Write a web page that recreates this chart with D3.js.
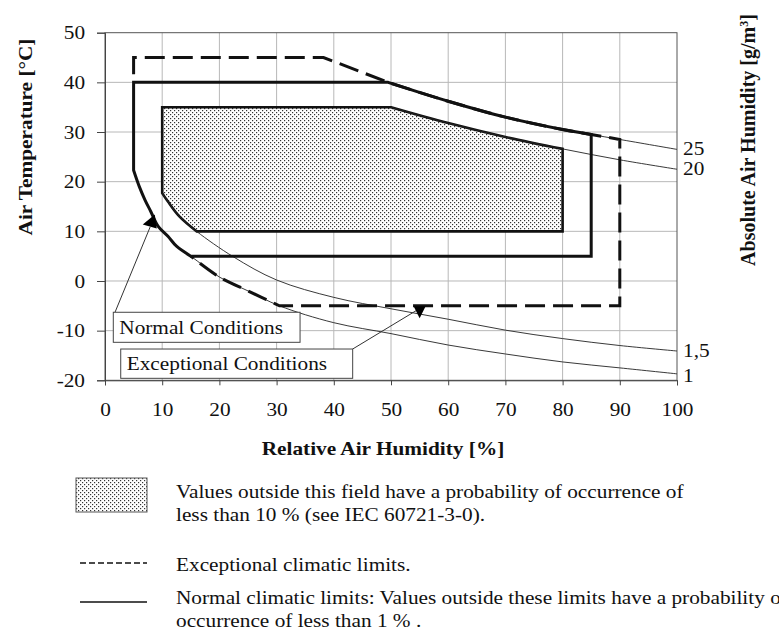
<!DOCTYPE html>
<html lang="en">
<head>
<meta charset="UTF-8">
<title>Climatic limits</title>
<script src="https://d3js.org/d3.v7.min.js"></script>
<style>
  body { margin: 0; background: #fff; }
  text { font-family: "Liberation Serif", "Times New Roman", serif; fill: #111; }
</style>
</head>
<body>
<svg id="chart" width="779" height="632"></svg>
<script>
// values: [relative humidity %, temperature °C]
const rhTicks = [0, 10, 20, 30, 40, 50, 60, 70, 80, 90, 100];
const tempTicks = [-20, -10, 0, 10, 20, 30, 40, 50];

// lines of constant absolute humidity
const abs1 = [[5, 22.3], [6, 19], [7, 16.3], [8, 14], [9.3, 11], [11, 9], [12.5, 7], [15, 5],
  [20, 0.8], [25, -2], [30.5, -5], [40, -8.4], [50, -10.6], [60, -12.9], [70, -14.7],
  [80, -16.3], [90, -17.5], [100, -18.7]];
const abs15 = [[10, 17.7], [11, 16], [13, 13], [16, 10], [22.4, 4.9], [30, 0.2], [40, -3.3],
  [50, -5.6], [60, -7.7], [70, -9.9], [80, -11.6], [90, -13], [100, -14.1]];
const abs20 = [[50, 35], [60, 31.8], [70, 29], [80, 26.6], [90, 24.4], [100, 22.5]];
const abs25 = [[49.5, 40], [60, 36.2], [70, 33], [80, 30.5], [85, 29.5], [90, 28.5], [100, 26.5]];
const absCurves = [abs1, abs15, abs20, abs25];
const absLabels = ["1", "1,5", "20", "25"];

// straight parts of the limits
const fieldCorners = [[10, 35], [80, 10], [16, 10]];       // 10 % field
const normalCorners = [[5, 40], [85, 5], [15, 5]];        // normal limits
const exceptCorners = [[5, 40], [5, 45], [38.2, 45], [90, -5], [30.5, -5]]; // exceptional

const callouts = [
  { label: "Normal Conditions", box: [1.45, 34.1, -6.3, -12.35], from: [1.75, -6.3], to: [7.9, 10.9], tip: [8.7, 13.4] },
  { label: "Exceptional Conditions", box: [2.75, 43.3, -13.7, -19.6], from: [43.3, -13.7], to: [54.5, -5.9], tip: [55, -7.5] }
];

const legendItems = [
  ["Values outside this field have a probability of occurrence of", "less than 10 % (see IEC 60721-3-0)."],
  ["Exceptional climatic limits."],
  ["Normal climatic limits: Values outside these limits have a probability of", "occurrence of less than 1 % ."]
];

const svg = d3.select("#chart");
const x = d3.scaleLinear().domain([0, 100]).range([105, 677]);
const y = d3.scaleLinear().domain([-20, 50]).range([380.3, 32.7]);

// the reference lettering is a little wider than the font
const widen = sel => sel.each(function () {
  const w = this.getComputedTextLength();
  d3.select(this).attr("textLength", w * 1.12).attr("lengthAdjust", "spacingAndGlyphs");
});

const defs = svg.append("defs");
const pat = defs.append("pattern").attr("id", "dots")
  .attr("patternUnits", "userSpaceOnUse").attr("width", 4).attr("height", 4);
pat.append("rect").attr("width", 4).attr("height", 4).attr("fill", "#fff");
pat.append("rect").attr("x", 0).attr("y", 0).attr("width", 1.2).attr("height", 1.2).attr("fill", "#333");
pat.append("rect").attr("x", 2).attr("y", 2).attr("width", 1.2).attr("height", 1.2).attr("fill", "#333");

// grid
const grid = svg.append("g");
grid.selectAll("line.v").data(rhTicks.slice(1, -1)).join("line")
  .attr("x1", d => x(d)).attr("x2", d => x(d)).attr("y1", y(50)).attr("y2", y(-20))
  .attr("stroke", "#b8b8b8");
grid.selectAll("line.h").data(tempTicks.slice(1, -1)).join("line")
  .attr("x1", x(0)).attr("x2", x(100)).attr("y1", d => y(d)).attr("y2", d => y(d))
  .attr("stroke", "#b8b8b8");
svg.append("rect").attr("x", x(0)).attr("y", y(50))
  .attr("width", x(100) - x(0)).attr("height", y(-20) - y(50))
  .attr("fill", "none").attr("stroke", "#555");

// axes
const xAxis = svg.append("g").attr("transform", `translate(0,${y(-20)})`)
  .call(d3.axisBottom(x).tickValues(rhTicks).tickFormat(d => String(d)).tickSize(5).tickPadding(17));
const yAxis = svg.append("g").attr("transform", `translate(${x(0)},0)`)
  .call(d3.axisLeft(y).tickValues(tempTicks).tickFormat(d => String(d)).tickSize(8).tickPadding(12));
[xAxis, yAxis].forEach(a => {
  a.select(".domain").attr("stroke", "#444");
  a.selectAll(".tick line").attr("stroke", "#444");
  a.selectAll("text").style("font-family", '"Liberation Serif", serif').style("font-size", "19px")
    .attr("fill", "#111").call(widen);
});

const pt = d => [x(d[0]), y(d[1])];
const straight = d3.line().x(d => x(d[0])).y(d => y(d[1]));
const smooth = d3.line().x(d => x(d[0])).y(d => y(d[1])).curve(d3.curveCatmullRom.alpha(0.5));
const join = parts => parts.map((p, i) => i ? p.replace(/^M/, "L") : p).join("");
const between = (c, a, b) => c.filter(d => d[0] >= a && d[0] <= b);

// 10 % field
const fieldPath = join([
  straight([fieldCorners[0], abs20[0]]),
  smooth(between(abs20, 50, 80)),
  straight([[80, 26.6], fieldCorners[1], fieldCorners[2]]),
  smooth(between(abs15, 10, 16).slice().reverse())
]) + "Z";
svg.append("path").attr("d", fieldPath).attr("fill", "url(#dots)")
  .attr("stroke", "#111").attr("stroke-width", 2.6).attr("stroke-linejoin", "miter");

// thin absolute humidity lines
svg.selectAll("path.abs").data(absCurves).join("path").attr("class", "abs")
  .attr("d", d => smooth(d)).attr("fill", "none").attr("stroke", "#222").attr("stroke-width", 0.9);

svg.selectAll("text.abs").data(absCurves).join("text").attr("class", "abs")
  .attr("x", x(100) + 6).attr("y", (d, i) => y(d[d.length - 1][1]) + (i === 0 ? 2 : -1))
  .attr("dy", "0.35em").style("font-size", "19px").text((d, i) => absLabels[i]).call(widen);

// exceptional limits (dashed)
const exceptPath = join([
  straight(exceptCorners.slice(0, 3)),
  straight([exceptCorners[2], abs25[0]]),
  smooth(between(abs25, 49.5, 90)),
  straight([[90, 28.5], exceptCorners[3], exceptCorners[4]]),
  smooth(between(abs1, 15, 30.5).slice().reverse())
]);
svg.append("path").attr("d", exceptPath).attr("fill", "none")
  .attr("stroke", "#111").attr("stroke-width", 3)
  .attr("stroke-dasharray", "20,8").attr("stroke-dashoffset", 20);

// normal limits (solid)
const normalPath = join([
  straight([normalCorners[0], abs25[0]]),
  smooth(between(abs25, 49.5, 85)),
  straight([[85, 29.5], normalCorners[1], normalCorners[2]]),
  smooth(between(abs1, 5, 15).slice().reverse()),
  straight([[5, 22.3], normalCorners[0]])
]) + "Z";
svg.append("path").attr("d", normalPath).attr("fill", "none")
  .attr("stroke", "#111").attr("stroke-width", 3).attr("stroke-linejoin", "miter");

// callouts
const heads = [
  t => [[t[0] - 12, t[1] + 10], t, [t[0] + 2, t[1] + 14]],
  t => [[t[0] - 6, t[1] - 12], [t[0] + 6, t[1] - 12], t]
];
callouts.forEach((c, i) => {
  svg.append("line").attr("x1", x(c.from[0])).attr("y1", y(c.from[1]))
    .attr("x2", x(c.to[0])).attr("y2", y(c.to[1])).attr("stroke", "#333").attr("stroke-width", 1);
  svg.append("polygon").attr("points", heads[i](pt(c.tip)).join(" ")).attr("fill", "#000");
  svg.append("rect").attr("x", x(c.box[0])).attr("y", y(c.box[2]))
    .attr("width", x(c.box[1]) - x(c.box[0])).attr("height", y(c.box[3]) - y(c.box[2]))
    .attr("fill", "#fff").attr("stroke", "#444").attr("stroke-width", 1);
  svg.append("text").attr("x", x(c.box[0]) + 6).attr("y", (y(c.box[2]) + y(c.box[3])) / 2)
    .attr("dy", "0.35em").style("font-size", "19px").text(c.label).call(widen);
});

// axis titles
svg.append("text").attr("transform", "translate(32,137) rotate(-90)").attr("text-anchor", "middle")
  .style("font-size", "19px").style("font-weight", "bold").text("Air Temperature [°C]").call(widen);
svg.append("text").attr("transform", "translate(755,140) rotate(-90)").attr("text-anchor", "middle")
  .style("font-size", "20px").style("font-weight", "bold")
  .html('Absolute Air Humidity [g/m<tspan dy="-7" font-size="12">3</tspan><tspan dy="7">]</tspan>');
svg.append("text").attr("x", 383).attr("y", 455).attr("text-anchor", "middle")
  .style("font-size", "19px").style("font-weight", "bold").text("Relative Air Humidity [%]").call(widen);

// legend
const lg = svg.append("g");
lg.append("rect").attr("x", 76).attr("y", 478).attr("width", 71).attr("height", 34)
  .attr("fill", "url(#dots)").attr("stroke", "#555");
lg.append("line").attr("x1", 80).attr("x2", 147).attr("y1", 563).attr("y2", 563)
  .attr("stroke", "#111").attr("stroke-width", 1.3).attr("stroke-dasharray", "6,3");
lg.append("line").attr("x1", 80).attr("x2", 147).attr("y1", 602).attr("y2", 602)
  .attr("stroke", "#111").attr("stroke-width", 1.5);
const legendTop = [498, 571, 604];
legendItems.forEach((lines, i) => {
  lines.forEach((s, j) => {
    lg.append("text").attr("x", 176).attr("y", legendTop[i] + j * 23)
      .style("font-size", "19px").text(s).call(widen);
  });
});
</script>
</body>
</html>
